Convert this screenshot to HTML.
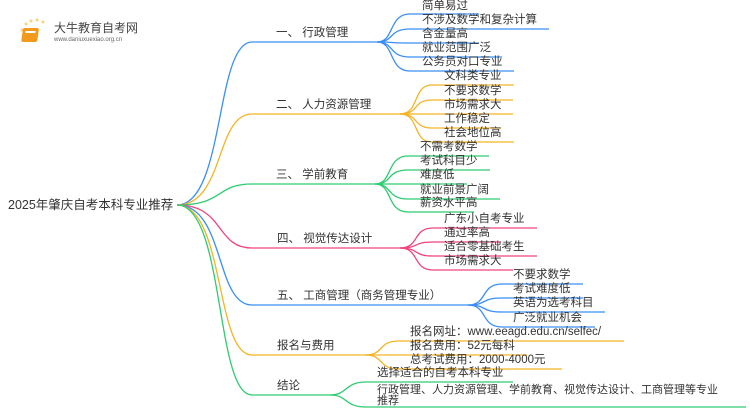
<!DOCTYPE html>
<html><head><meta charset="utf-8"><style>
body{margin:0;background:#fff;}
svg{display:block;}
text{font-family:"Liberation Sans","Noto Sans CJK SC",sans-serif;font-size:11.5px;fill:#333;}
</style></head><body>
<svg width="750" height="410" viewBox="0 0 750 410" xmlns="http://www.w3.org/2000/svg">
<g fill="none" stroke-width="1.3">
<path d="M177,205 C225,205 215,42 252,42 L377,42" stroke="#3b8ff5"/>
<path d="M177,205 C225,205 215,114 252,114 L400,114" stroke="#f5b325"/>
<path d="M177,205 C225,205 215,184 252,184 L375,184" stroke="#2ecc71"/>
<path d="M177,205 C225,205 215,248 252,248 L400,248" stroke="#f0437c"/>
<path d="M177,205 C225,205 215,305 252,305 L468,305" stroke="#3b8ff5"/>
<path d="M177,205 C225,205 215,355 252,355 L365,355" stroke="#f5b325"/>
<path d="M177,205 C225,205 215,395 252,395 L330,395" stroke="#2ecc71"/>
<g stroke="#3b8ff5">
<path d="M377,42 C395,42 388,14 410,14 L479,14"/>
<path d="M377,42 C395,42 388,29 410,29 L549,29"/>
<path d="M377,42 C395,42 388,43 410,43 L479,43"/>
<path d="M377,42 C395,42 388,57 410,57 L502,57"/>
<path d="M377,42 C395,42 388,71 410,71 L514,71"/>
</g>
<g stroke="#f5b325">
<path d="M400,114 C420,114 412,85 432,85 L514,85"/>
<path d="M400,114 C420,114 412,100 432,100 L513,100"/>
<path d="M400,114 C420,114 412,114 432,114 L513,114"/>
<path d="M400,114 C420,114 412,128 432,128 L501,128"/>
<path d="M400,114 C420,114 412,142 432,142 L514,142"/>
</g>
<g stroke="#2ecc71">
<path d="M375,184 C393,184 386,156 408,156 L489,156"/>
<path d="M375,184 C393,184 386,170 408,170 L490,170"/>
<path d="M375,184 C393,184 386,184 408,184 L467,184"/>
<path d="M375,184 C393,184 386,199 408,199 L500,199"/>
<path d="M375,184 C393,184 386,212 408,212 L474,212"/>
</g>
<g stroke="#f0437c">
<path d="M400,248 C420,248 412,228 433,228 L537,228"/>
<path d="M400,248 C420,248 412,242 433,242 L501,242"/>
<path d="M400,248 C420,248 412,256 433,256 L537,256"/>
<path d="M400,248 C420,248 412,270 433,270 L513,270"/>
</g>
<g stroke="#3b8ff5">
<path d="M468,305 C488,305 480,284 502,284 L583,284"/>
<path d="M468,305 C488,305 480,298 502,298 L583,298"/>
<path d="M468,305 C488,305 480,312 502,312 L605,312"/>
<path d="M468,305 C488,305 480,327 502,327 L595,327"/>
</g>
<g stroke="#f5b325">
<path d="M365,355 C385,355 377,341 399,341 L624,341"/>
<path d="M365,355 C385,355 377,355 399,355 L527,355"/>
<path d="M365,355 C385,355 377,369 399,369 L562,369"/>
</g>
<g stroke="#2ecc71">
<path d="M330,395 C348,395 344,382 366,382 L513,382"/>
<path d="M330,395 C348,395 344,407 366,407 L746,407"/>
</g>
</g>
<g>
<circle cx="26" cy="24" r="1.5" fill="#fbd27a"/><circle cx="31" cy="21" r="1.5" fill="#fbd27a"/><circle cx="37" cy="20" r="1.5" fill="#fbd27a"/><circle cx="43" cy="22" r="1.5" fill="#fbd27a"/><circle cx="22" cy="30" r="1.5" fill="#fbd27a"/>
<rect x="27" y="28" width="16" height="14" rx="2" fill="#f39a1e" transform="skewX(-8)"/>
<rect x="30" y="31" width="10" height="2" fill="#fff" transform="skewX(-8)"/>
<text x="54" y="32" style="font-size:12px;fill:#444">大牛教育自考网</text>
<text x="54" y="41" style="font-size:6px;fill:#666">www.daniuxuexiao.org.cn</text>
</g>
<text x="8" y="209" style="font-size:12.5px">2025年肇庆自考本科专业推荐</text>
<text x="276" y="36">一、 行政管理</text>
<text x="276" y="108">二、 人力资源管理</text>
<text x="276" y="178">三、 学前教育</text>
<text x="277" y="242">四、 视觉传达设计</text>
<text x="277" y="299">五、 工商管理（商务管理专业）</text>
<text x="277" y="349">报名与费用</text>
<text x="277" y="389">结论</text>
<text x="422" y="9">简单易过</text>
<text x="422" y="23">不涉及数学和复杂计算</text>
<text x="422" y="37">含金量高</text>
<text x="422" y="51">就业范围广泛</text>
<text x="422" y="65">公务员对口专业</text>
<text x="444" y="79">文科类专业</text>
<text x="444" y="94">不要求数学</text>
<text x="444" y="108">市场需求大</text>
<text x="444" y="122">工作稳定</text>
<text x="444" y="136">社会地位高</text>
<text x="420" y="150">不需考数学</text>
<text x="420" y="164">考试科目少</text>
<text x="420" y="178">难度低</text>
<text x="420" y="193">就业前景广阔</text>
<text x="420" y="206">薪资水平高</text>
<text x="444" y="222">广东小自考专业</text>
<text x="444" y="236">通过率高</text>
<text x="444" y="250">适合零基础考生</text>
<text x="444" y="264">市场需求大</text>
<text x="513" y="278">不要求数学</text>
<text x="513" y="292">考试难度低</text>
<text x="513" y="306">英语为选考科目</text>
<text x="513" y="321">广泛就业机会</text>
<text x="410" y="335">报名网址：www.eeagd.edu.cn/selfec/</text>
<text x="410" y="349">报名费用：52元每科</text>
<text x="410" y="363">总考试费用：2000-4000元</text>
<text x="377" y="376">选择适合的自考本科专业</text>
<text x="377" y="393" style="font-size:11px">行政管理、人力资源管理、学前教育、视觉传达设计、工商管理等专业</text>
<text x="377" y="404" style="font-size:11px">推荐</text>
</svg>
</body></html>
